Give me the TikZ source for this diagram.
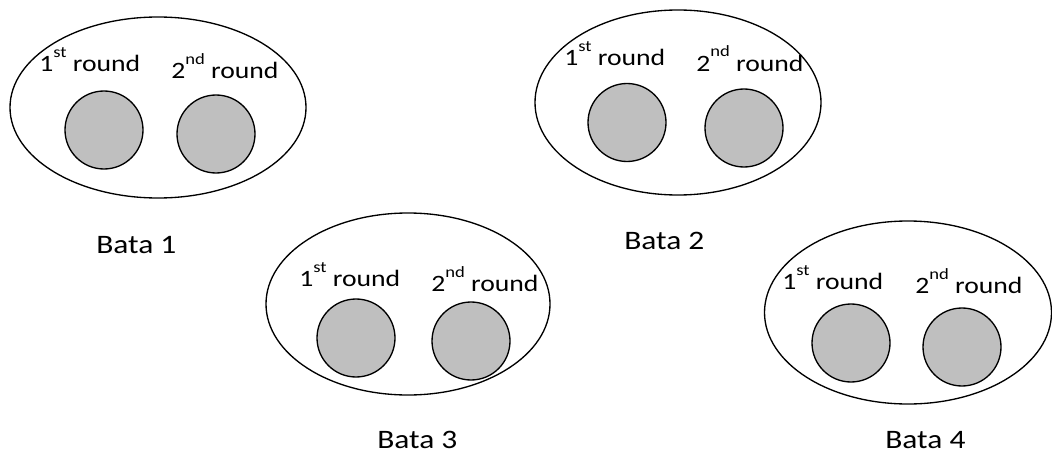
\documentclass[tikz,border=0pt]{standalone}
\usepackage{fontspec}
\setmainfont[FakeStretch=1.18]{Carlito}
\newcommand\supsc[1]{\raisebox{10.5pt}{\fontsize{11.8}{13}\selectfont #1}}
\begin{document}
\begin{tikzpicture}[x=0.75pt,y=-0.75pt,
  oval/.style={draw=black,line width=1pt},
  ball/.style={draw=black,line width=1pt,fill=black!25},
  roundlbl/.style={anchor=base west,inner sep=0pt,font=\fontsize{17.6}{20}\selectfont},
  batalbl/.style={anchor=base west,inner sep=0pt,font=\fontsize{20}{24}\selectfont}]
\useasboundingbox (0,0) rectangle (1052,453);
% group 1
\draw[oval] (158,107.5) ellipse [x radius=148, y radius=90.5];
\draw[ball] (104,130) circle [radius=39];
\draw[ball] (216,134) circle [radius=39];
\node[roundlbl] (r11) at (39,72) {1\supsc{st} round};
\node[roundlbl] (r12) at (171,79) {2\supsc{nd} round};
\node[batalbl] (b1) at (96,253) {Bata 1};
% group 2
\draw[oval] (678,102.5) ellipse [x radius=143, y radius=92.5];
\draw[ball] (627,122.5) circle [radius=39];
\draw[ball] (744,128) circle [radius=39];
\node[roundlbl] (r21) at (564,65) {1\supsc{st} round};
\node[roundlbl] (r22) at (696,71) {2\supsc{nd} round};
\node[batalbl] (b2) at (624,249) {Bata 2};
% group 3
\draw[oval] (408,304) ellipse [x radius=142, y radius=91];
\draw[ball] (356,338) circle [radius=39];
\draw[ball] (471,341) circle [radius=39];
\node[roundlbl] (r31) at (299,286) {1\supsc{st} round};
\node[roundlbl] (r32) at (431,291) {2\supsc{nd} round};
\node[batalbl] (b3) at (377,448) {Bata 3};
% group 4
\draw[oval] (908,312.5) ellipse [x radius=143.5, y radius=91.5];
\draw[ball] (851,343) circle [radius=39];
\draw[ball] (962,347) circle [radius=39];
\node[roundlbl] (r41) at (782,289) {1\supsc{st} round};
\node[roundlbl] (r42) at (915,293) {2\supsc{nd} round};
\node[batalbl] (b4) at (885,448) {Bata 4};
\end{tikzpicture}
\end{document}
